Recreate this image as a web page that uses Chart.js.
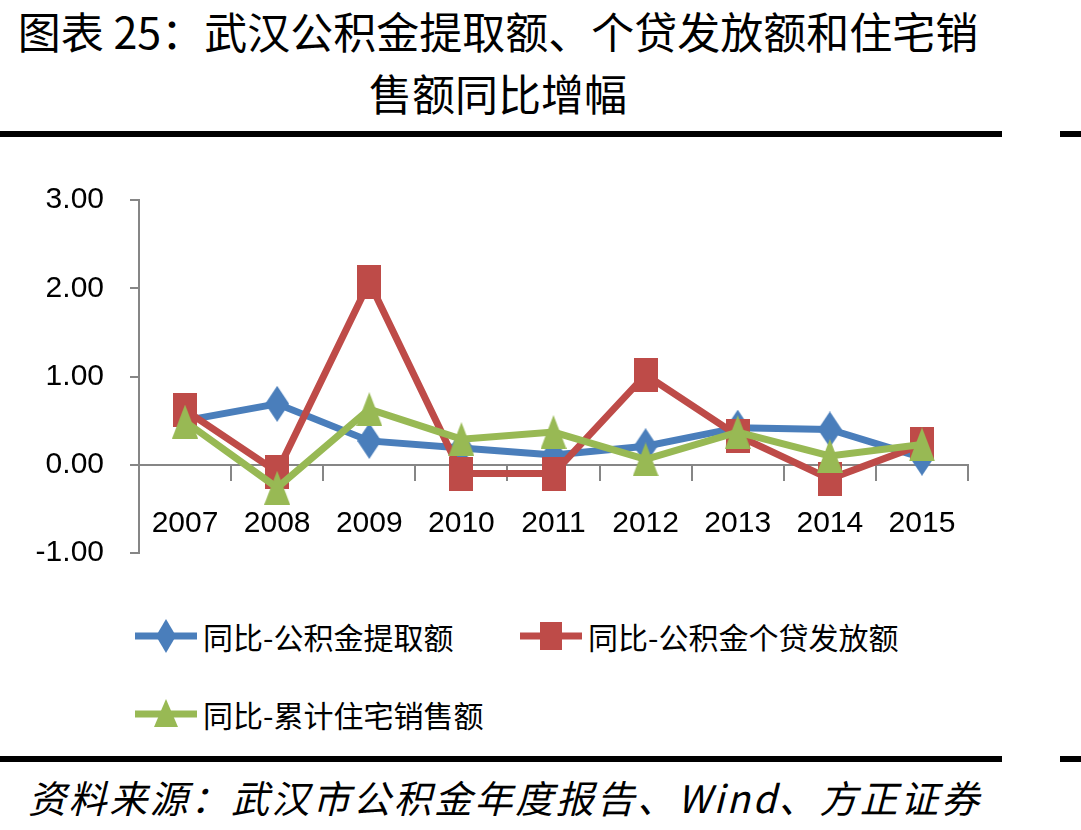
<!DOCTYPE html>
<html>
<head>
<meta charset="utf-8">
<script src="https://cdn.jsdelivr.net/npm/chart.js@4.4.0/dist/chart.umd.min.js"></script>
<style>
    body { margin: 0; background: #fff; width: 1081px; height: 830px; position: relative; overflow: hidden;
           font-family: "Noto Sans CJK SC", sans-serif; color: #000; }
    #title { position: absolute; left: 0; top: -1px; width: 996px; text-align: center; font-size: 43px; line-height: 62px; }
    .rule { position: absolute; height: 6px; background: #000; }
    #chartBox { position: absolute; left: 0; top: 150px; }
    .legend-item { position: absolute; display: flex; align-items: center; font-size: 30px; white-space: nowrap; }
    .legend-item svg { margin-right: 6px; }
    #source { position: absolute; left: 28px; top: 769px; font-size: 38px; font-style: italic; letter-spacing: 2.6px; white-space: nowrap; }
</style>
</head>
<body>
<div id="title">图表 25：武汉公积金提取额、个贷发放额和住宅销<br>售额同比增幅</div>
<div class="rule" style="left:0;top:131px;width:1002px"></div>
<div class="rule" style="left:1060px;top:131px;width:21px"></div>

<div id="chartBox"><canvas id="yoyChart" width="1000" height="447"></canvas></div>
<div id="legend"></div>

<div class="rule" style="left:0;top:756px;width:1002px"></div>
<div class="rule" style="left:1060px;top:756px;width:21px"></div>
<div id="source">资料来源：武汉市公积金年度报告、Wind、方正证券</div>

<script>
// --- Data ---
const years = ['2007', '2008', '2009', '2010', '2011', '2012', '2013', '2014', '2015'];
const withdrawYoY = [0.50, 0.69, 0.27, 0.19, 0.11, 0.21, 0.42, 0.40, 0.08];
const loanYoY = [0.62, -0.08, 2.07, -0.10, -0.10, 1.02, 0.33, -0.16, 0.23];
const salesYoY = [0.49, -0.26, 0.63, 0.29, 0.37, 0.06, 0.37, 0.10, 0.23];
const yTicks = [-1, 0, 1, 2, 3];
const seriesNames = ['同比-公积金提取额', '同比-公积金个贷发放额', '同比-累计住宅销售额'];

const colors = ['#4a7ebb', '#be4b48', '#98b954'];
const markers = ['diamond', 'square', 'triangle'];
const axisGray = '#868686';
const numFont = { family: '"Liberation Sans", Arial, sans-serif', size: 30 };

// tall markers (the original chart is a bit squeezed horizontally)
const makeMarker = (type, color, w, h) => {
    const c = document.createElement('canvas');
    c.width = w;
    c.height = h;
    const g = c.getContext('2d');
    g.fillStyle = color;
    g.beginPath();
    if (type === 'diamond') {
        g.moveTo(w / 2, 0); g.lineTo(w, h / 2); g.lineTo(w / 2, h); g.lineTo(0, h / 2);
    } else if (type === 'square') {
        g.rect(0, 0, w, h);
    } else {
        g.moveTo(w / 2, 0); g.lineTo(w, h); g.lineTo(0, h);
    }
    g.closePath();
    g.fill();
    return c;
};

document.addEventListener('DOMContentLoaded', () => {
    // --- Chart ---
    const markerSizes = [[24, 36], [24, 34], [26, 34]];
    const ctx = document.getElementById('yoyChart').getContext('2d');
    const seriesData = [withdrawYoY, loanYoY, salesYoY];
    new Chart(ctx, {
        type: 'line',
        data: {
            labels: years,
            datasets: seriesData.map((data, i) => ({
                label: seriesNames[i],
                data: data,
                borderColor: colors[i],
                backgroundColor: colors[i],
                pointStyle: makeMarker(markers[i], colors[i], markerSizes[i][0], markerSizes[i][1]),
                pointRadius: 16,
                order: 3 - i,
                borderWidth: 7,
                tension: 0,
                fill: false
            }))
        },
        options: {
            responsive: false,
            animation: false,
            devicePixelRatio: 1,
            layout: { padding: { top: 50, right: 32, left: 0, bottom: 0 } },
            plugins: { legend: { display: false }, tooltip: { enabled: false } },
            scales: {
                x: {
                    type: 'category',
                    offset: true,
                    position: { y: 0 },
                    grid: { offset: true, drawOnChartArea: false, tickLength: 15, color: axisGray, lineWidth: 2 },
                    border: { color: axisGray, width: 2 },
                    ticks: { padding: 26, font: numFont, color: '#000', maxRotation: 0, autoSkip: false },
                    afterFit: s => { s.height = 80; }
                },
                y: {
                    min: -1,
                    max: 3,
                    afterBuildTicks: s => { s.ticks = yTicks.map(v => ({ value: v })); },
                    grid: { drawOnChartArea: false, tickLength: 9, color: axisGray, lineWidth: 2 },
                    border: { color: axisGray, width: 2 },
                    ticks: { padding: 26, font: numFont, color: '#000', callback: v => v.toFixed(2) },
                    afterFit: s => { s.width = 139; }
                }
            }
        }
    });

    // --- Legend (HTML) ---
    const symbol = (i) => {
        const c = colors[i];
        let mark;
        if (markers[i] === 'diamond') mark = `<polygon points="31,3 41,20 31,37 21,20" fill="${c}"/>`;
        else if (markers[i] === 'square') mark = `<rect x="20" y="6" width="22" height="28" fill="${c}"/>`;
        else mark = `<polygon points="31,5 43,33 19,33" fill="${c}"/>`;
        return `<svg width="62" height="40"><line x1="0" y1="20" x2="62" y2="20" stroke="${c}" stroke-width="7"/>${mark}</svg>`;
    };
    const legendPos = [[135, 614], [520, 614], [135, 692]];
    const legend = document.getElementById('legend');
    seriesNames.forEach((name, i) => {
        const item = document.createElement('div');
        item.className = 'legend-item';
        item.style.left = legendPos[i][0] + 'px';
        item.style.top = legendPos[i][1] + 'px';
        item.innerHTML = `${symbol(i)}<span>${name}</span>`;
        legend.appendChild(item);
    });
});
</script>
</body>
</html>
